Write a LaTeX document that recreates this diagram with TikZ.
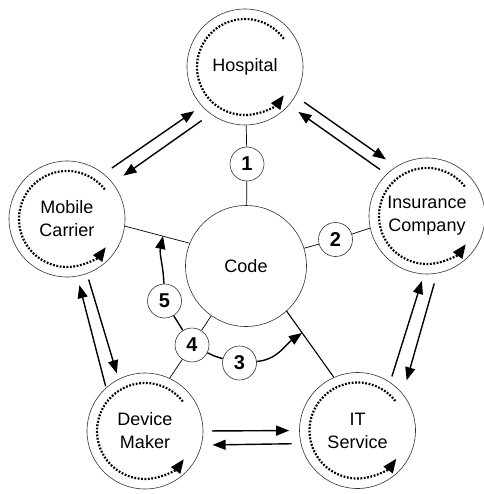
\documentclass[tikz,border=0pt]{standalone}
\usepackage{fontspec}
\setmainfont{Liberation Sans}
\usetikzlibrary{calc, arrows.meta}

\begin{document}
\begin{tikzpicture}[
    x=1pt, y=1pt,
    % Node styles
    partyNode/.style={circle, draw=black!80, line width=0.6pt, minimum size=116pt, inner sep=0pt, align=center, font=\fontsize{18}{23}\selectfont},
    codeNode/.style={partyNode, minimum size=121pt},
    numNode/.style={circle, draw=black!80, fill=white, line width=0.6pt, minimum size=34pt, inner sep=0pt, font=\fontsize{20}{20}\selectfont\bfseries},
    % Line styles
    linkLine/.style={line width=0.7pt},
    arcArrow/.style={line width=1.4pt, -{Triangle[length=13pt, width=10pt]}},
    flowArrow/.style={arcArrow, shorten <=8pt, shorten >=8pt},
    cycleArc/.style={line width=2.2pt, dash pattern=on 1.8pt off 1.6pt, -{Triangle[length=14pt, width=11pt]}}
    ]
    
    \useasboundingbox (0,0) rectangle (483,-494);
    
    % =========================================================
    % 1. THE PARTIES AND THE CODE
    % =========================================================
    
    \node[partyNode] (Hosp) at (245,-67) {Hospital};
    \node[partyNode] (Carr) at (67,-219) {Mobile\\Carrier};
    \node[partyNode] (Ins) at (427,-216) {Insurance\\Company};
    \node[partyNode] (Dev) at (145,-431) {Device\\Maker};
    \node[partyNode] (ITS) at (357.5,-430.5) {IT\\Service};
    
    \node[codeNode] (Code) at (246,-266) {Code};
    
    % Numbered steps
    \node[numNode] (N1) at (247,-164) {1};
    \node[numNode] (N2) at (335.5,-239.5) {2};
    \node[numNode] (N3) at (239.5,-363) {3};
    \node[numNode] (N4) at (192,-345) {4};
    \node[numNode] (N5) at (164.5,-301) {5};
    
    % Free ends of the step arc
    \coordinate (TipA) at (163,-236);
    \coordinate (TipB) at (302,-333);
    
    % =========================================================
    % 2. LINKS TO THE CODE
    % =========================================================
    
    \draw[linkLine] (Hosp) -- (N1) -- (Code);
    \draw[linkLine] (Code.17) -- (N2) -- (Ins.192);
    \draw[linkLine] (Carr.-7) -- (Code.158);
    \draw[linkLine] (Code.235) -- (N4) -- (Dev.65);
    \draw[linkLine, line width=1.1pt] (Code.-48) -- (ITS.114);
    
    % Step arc 5 - 4 - 3
    \draw[arcArrow] (N5) to[out=92, in=-102] (TipA);
    \draw[line width=1.4pt] (N5) -- (N4) to[bend right=6] (N3);
    \draw[arcArrow] (N3) to[out=5, in=215] (TipB);
    
    % =========================================================
    % 3. EXCHANGES BETWEEN THE PARTIES
    % =========================================================
    
    % Hospital <-> Mobile Carrier
    \draw[flowArrow, shorten <=10pt, shorten >=9pt] (Carr.51) -- (Hosp.222);
    \draw[flowArrow, shorten <=11pt, shorten >=13pt] (Hosp.234) -- (Carr.38);
    
    % Hospital <-> Insurance Company
    \draw[flowArrow, shorten <=10.5pt, shorten >=12.5pt] (Hosp.-30) -- (Ins.122);
    \draw[flowArrow, shorten <=8pt, shorten >=11.5pt] (Ins.134) -- (Hosp.-41);
    
    % Insurance Company <-> IT Service
    \draw[flowArrow, shorten <=6pt, shorten >=7pt] (ITS.56) -- (Ins.267);
    \draw[flowArrow, shorten <=10.5pt, shorten >=14pt] (Ins.280) -- (ITS.39);
    
    % Device Maker <-> IT Service
    \draw[flowArrow, shorten <=8.5pt, shorten >=10pt] (Dev.0) -- (ITS.180);
    \draw[flowArrow, shorten <=9pt, shorten >=11pt] (ITS.193) -- (Dev.-14);
    
    % Mobile Carrier <-> Device Maker
    \draw[flowArrow, shorten <=6pt, shorten >=6pt] (Carr.-70) -- (Dev.117);
    \draw[flowArrow, shorten <=1.5pt, shorten >=9pt] (Dev.132) -- (Carr.-80);
    
    % =========================================================
    % 4. INNER CYCLES
    % =========================================================
    
    \draw[cycleArc] ($(Hosp)+(36:48pt)$) arc[start angle=36, end angle=324, radius=48pt];
    \draw[cycleArc] ($(Carr)+(38:48pt)$) arc[start angle=38, end angle=324, radius=48pt];
    \draw[cycleArc] ($(Ins)+(38:48pt)$) arc[start angle=38, end angle=324, radius=48pt];
    \draw[cycleArc] ($(Dev)+(38:48pt)$) arc[start angle=38, end angle=324, radius=48pt];
    \draw[cycleArc] ($(ITS)+(38:48pt)$) arc[start angle=38, end angle=324, radius=48pt];
    
\end{tikzpicture}
\end{document}
